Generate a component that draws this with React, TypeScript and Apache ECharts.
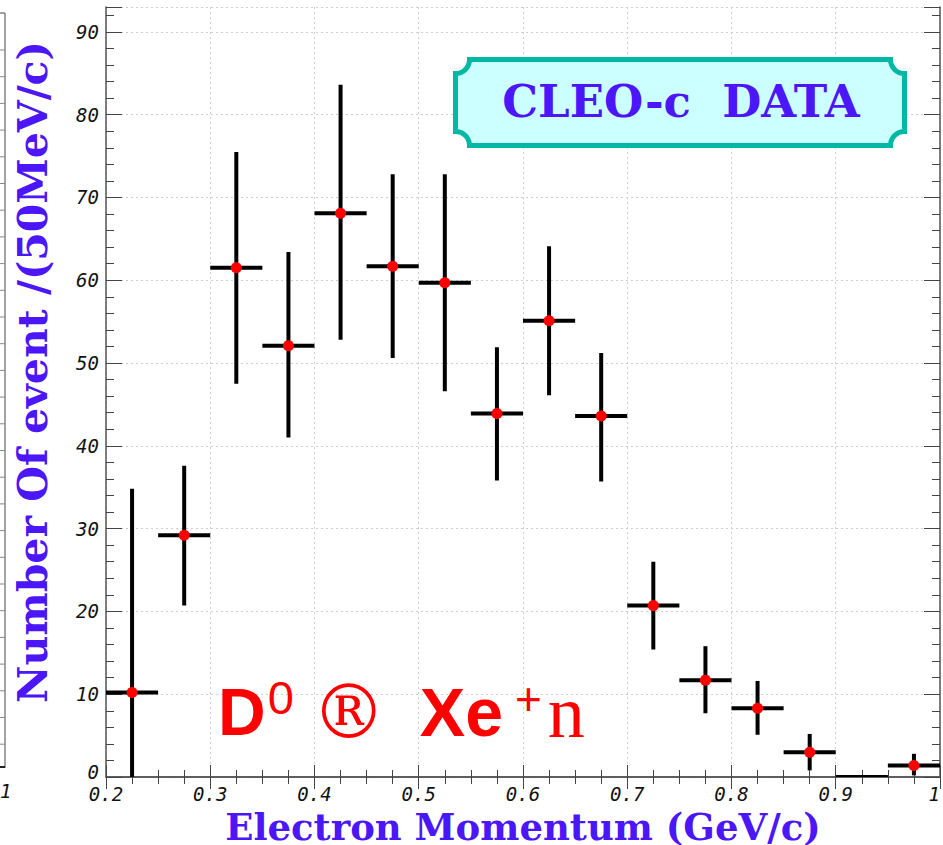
import React, { useEffect, useRef } from "react";
import * as echarts from "echarts";

// ---- data ----
const binCenters = [0.225, 0.275, 0.325, 0.375, 0.425, 0.475, 0.525, 0.575, 0.625, 0.675, 0.725, 0.775, 0.825, 0.875, 0.925, 0.975];
const counts = [10.2, 29.2, 61.5, 52.1, 68.1, 61.7, 59.7, 43.9, 55.1, 43.6, 20.7, 11.7, 8.3, 3.0, 0, 1.4];
const errLow = [0, 20.7, 47.5, 41.0, 52.8, 50.6, 46.6, 35.8, 46.1, 35.7, 15.4, 7.7, 5.1, 0.8, 0, 0.2];
const errHigh = [34.8, 37.6, 75.5, 63.4, 83.6, 72.8, 72.8, 51.9, 64.1, 51.2, 26.0, 15.8, 11.6, 5.2, 0, 2.8];
const binHalfWidth = 0.025;
const xMin = 0.2;
const xMax = 1.0;
const yMin = 0;
const yMax = 93;

const BLUE = "#4B16F8";

// concave-cornered label box
const bx0 = 455.5, bx1 = 904.5, by0 = 59.5, by1 = 145.5, br = 14;
const boxPath =
  `M ${bx0 + br} ${by0} L ${bx1 - br} ${by0} A ${br} ${br} 0 0 0 ${bx1} ${by0 + br} ` +
  `L ${bx1} ${by1 - br} A ${br} ${br} 0 0 0 ${bx1 - br} ${by1} ` +
  `L ${bx0 + br} ${by1} A ${br} ${br} 0 0 0 ${bx0} ${by1 - br} ` +
  `L ${bx0} ${by0 + br} A ${br} ${br} 0 0 0 ${bx0 + br} ${by0} Z`;
echarts.graphic.registerShape("cleoBox", echarts.graphic.extendPath(boxPath, {}));

export default function App() {
  const ref = useRef<HTMLDivElement>(null);
  useEffect(() => {
    if (!ref.current) return;
    const chart = echarts.init(ref.current, undefined, { renderer: "svg" });

    const data = binCenters.map((x, i) => [x, counts[i], errLow[i], errHigh[i]]);

    const axisLineStyle = { color: "#555", width: 1.5 };
    const tickStyle = { color: "#444", width: 1 };
    const gridLine = { show: true, lineStyle: { color: "#cfcfcf", width: 1, type: [2, 3] as any } };

    // decorative strip of neighbouring frame at the left edge
    const strip: any[] = [
      { type: "line", shape: { x1: 5, y1: 13, x2: 5, y2: 768 }, style: { stroke: "#666", lineWidth: 1.2 } },
      { type: "line", shape: { x1: 0, y1: 13, x2: 5, y2: 13 }, style: { stroke: "#666", lineWidth: 1.2 } },
      { type: "line", shape: { x1: 0, y1: 767, x2: 5, y2: 767 }, style: { stroke: "#222", lineWidth: 2 } },
      { type: "text", x: 0, y: 791, style: { text: "1", fill: "#111", font: "italic 19px 'DejaVu Sans Mono'", align: "left", verticalAlign: "middle" } },
    ];
    for (let k = 0; k < 28; k++) {
      const yy = 50 + k * 26.7;
      if (yy > 760) break;
      strip.push({ type: "line", shape: { x1: 0, y1: yy, x2: 5, y2: yy }, style: { stroke: "#888", lineWidth: 1 } });
    }

    const labelFont = { color: "#111", fontFamily: "DejaVu Sans Mono", fontStyle: "italic", fontSize: 19 };

    const option: any = {
      animation: false,
      backgroundColor: "#ffffff",
      grid: { left: 106, right: 3, top: 7, bottom: 68, containLabel: false, outerBoundsMode: "none" },
      xAxis: [
        {
          type: "value", position: "bottom", min: xMin, max: xMax, interval: 0.1,
          axisLine: { show: true, lineStyle: axisLineStyle },
          axisTick: { show: true, inside: true, length: 12, lineStyle: tickStyle },
          minorTick: { show: true, splitNumber: 4, length: 7, lineStyle: tickStyle },
          splitLine: gridLine,
          axisLabel: {
            show: true, margin: 9, lineHeight: 16, ...labelFont, alignMaxLabel: "right",
            formatter: (v: number) => (Math.abs(v - 1) < 1e-9 ? "1" : v.toFixed(1)),
          },
          name: "Electron Momentum (GeV/c)", nameLocation: "middle", nameGap: 18,
          nameTextStyle: { color: BLUE, fontFamily: "DejaVu Serif", fontWeight: "bold", fontSize: 37, lineHeight: 37 },
        },
        {
          type: "value", position: "top", min: xMin, max: xMax, interval: 0.1,
          axisLine: { show: true, lineStyle: axisLineStyle },
          axisTick: { show: true, inside: true, length: 12, lineStyle: tickStyle },
          minorTick: { show: true, splitNumber: 4, length: 7, lineStyle: tickStyle },
          splitLine: { show: false }, axisLabel: { show: false },
        },
      ],
      yAxis: [
        {
          type: "value", position: "left", min: yMin, max: yMax, interval: 10,
          axisLine: { show: true, lineStyle: axisLineStyle },
          axisTick: { show: true, inside: true, length: 16, lineStyle: tickStyle },
          splitLine: gridLine,
          axisLabel: {
            show: true, margin: 7, lineHeight: 14, ...labelFont,
            formatter: (v: number) => (v === 0 ? "{z|0}" : v % 10 === 0 ? String(v) : ""),
            rich: { z: { ...labelFont, lineHeight: 14, padding: [0, 0, 10, 0] } },
          },
        },
        {
          type: "value", position: "left", min: yMin, max: yMax, interval: 2,
          axisLine: { show: false },
          axisTick: { show: true, inside: true, length: 8, lineStyle: tickStyle },
          splitLine: { show: false }, axisLabel: { show: false },
        },
        {
          type: "value", position: "right", min: yMin, max: yMax, interval: 10,
          axisLine: { show: true, lineStyle: axisLineStyle },
          axisTick: { show: true, inside: true, length: 16, lineStyle: tickStyle },
          splitLine: { show: false }, axisLabel: { show: false },
        },
        {
          type: "value", position: "right", min: yMin, max: yMax, interval: 2,
          axisLine: { show: false },
          axisTick: { show: true, inside: true, length: 8, lineStyle: tickStyle },
          splitLine: { show: false }, axisLabel: { show: false },
        },
      ],
      series: [
        {
          type: "custom",
          xAxisIndex: 0,
          yAxisIndex: 0,
          clip: true,
          data,
          encode: { x: 0, y: 1 },
          renderItem: (params: any, api: any) => {
            const x = api.value(0), y = api.value(1), lo = api.value(2), hi = api.value(3);
            const pl = api.coord([x - binHalfWidth, y]);
            const pr = api.coord([x + binHalfWidth, y]);
            const pLo = api.coord([x, lo]);
            const pHi = api.coord([x, hi]);
            const c = api.coord([x, y]);
            const children: any[] = [
              { type: "line", shape: { x1: pl[0], y1: pl[1], x2: pr[0], y2: pr[1] }, style: { stroke: "#000", lineWidth: 4 } },
            ];
            if (hi > lo) {
              children.push({ type: "line", shape: { x1: pLo[0], y1: pLo[1], x2: pHi[0], y2: pHi[1] }, style: { stroke: "#000", lineWidth: 4 } });
            }
            if (hi > 0) {
              children.push({ type: "circle", shape: { cx: c[0], cy: c[1], r: 5.5 }, style: { fill: "#ff0000" } });
            }
            return { type: "group", children };
          },
        },
      ],
      graphic: [
        ...strip,
        {
          type: "text", x: 33, y: 372, rotation: Math.PI / 2,
          style: { text: "Number Of event /(50MeV/c)", fill: BLUE, font: "bold 41px 'DejaVu Serif'", align: "center", verticalAlign: "middle" },
        },
        { type: "cleoBox", x: 0, y: 0, z: 10, shape: {}, style: { fill: "#ccffff", stroke: "#00b8a3", lineWidth: 5 } },
        {
          type: "text", x: 681, y: 101, z: 11,
          style: { text: "CLEO-c  DATA", fill: BLUE, font: "bold 45px 'DejaVu Serif'", align: "center", verticalAlign: "middle" },
        },
        {
          type: "text", x: 218, y: 712, z: 11,
          style: {
            text: "{a|D}{b|0}{c|®}{d|Xe}{e|+}{f|n}",
            align: "left", verticalAlign: "middle",
            rich: {
              a: { fill: "#ff0000", fontFamily: "Liberation Sans", fontWeight: "bold", fontSize: 66, lineHeight: 80 },
              b: { fill: "#ff0000", fontFamily: "Liberation Sans", fontSize: 47, lineHeight: 48, padding: [0, 0, 30, 2] },
              c: { fill: "#ff0000", fontFamily: "DejaVu Serif", fontSize: 74, lineHeight: 80, padding: [0, 34, 0, 18] },
              d: { fill: "#ff0000", fontFamily: "Liberation Sans", fontWeight: "bold", fontSize: 68, lineHeight: 80 },
              e: { fill: "#ff0000", fontFamily: "Liberation Sans", fontSize: 46, lineHeight: 48, padding: [0, 6, 26, 12] },
              f: { fill: "#ff0000", fontFamily: "Liberation Serif", fontSize: 74, lineHeight: 80 },
            },
          },
        },
      ],
    };
    chart.setOption(option);
    return () => chart.dispose();
  }, []);
  return <div ref={ref} style={{ position: "fixed", left: 0, top: 0, width: 943, height: 845 }} />;
}
